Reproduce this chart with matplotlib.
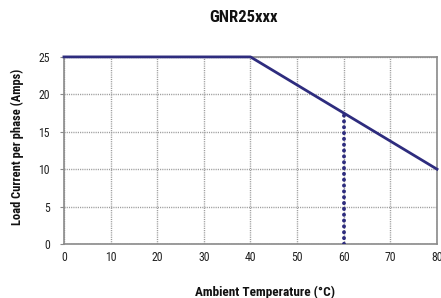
import matplotlib
matplotlib.use("Agg")
import matplotlib.pyplot as plt

fam = ['Roboto Condensed', 'DejaVu Sans']

temps = [0, 40, 80]
current = [25, 25, 10]
marker_temp = [60, 60]
marker_current = [0, 17.5]
xticks = [0, 10, 20, 30, 40, 50, 60, 70, 80]
yticks = [0, 5, 10, 15, 20, 25]

fig = plt.figure(figsize=(4.41, 2.98), dpi=100)
ax = fig.add_axes([0.145, 0.181, 0.846, 0.628])
navy = '#2e2c7e'
ax.plot(temps, current, color=navy, lw=2, zorder=3, clip_on=False)
ax.plot(marker_temp, marker_current, color=navy, lw=2.8, linestyle=(0, (0.05, 1.45)),
        dash_capstyle='round', zorder=3)
ax.set_xlim(0, 80)
ax.set_ylim(0, 25)
ax.set_xticks(xticks)
ax.set_yticks(yticks)
ax.grid(True, color='#9a9a9a', linestyle=(0, (0.8, 0.8)), lw=1.0)
for s in ax.spines.values():
    s.set_color('#8a8a8a')
    s.set_linewidth(1.2)
ax.tick_params(axis='y', length=3, width=0.8, color='#8a8a8a', pad=7, labelsize=8.5, labelcolor='#222222')
ax.tick_params(axis='x', length=0, pad=5, labelsize=8.5, labelcolor='#222222')
for lab in ax.get_xticklabels() + ax.get_yticklabels():
    lab.set_family(fam)
fig.text(0.601, 0.020, 'Ambient Temperature (°C)', family=fam, fontweight='bold', fontsize=9.5,
         ha='center', va='center', color='#111111')
fig.text(0.039, 0.507, 'Load Current per phase (Amps)', family=fam, fontweight='bold', fontsize=9,
         ha='center', va='center', rotation=90, color='#111111')
fig.text(0.553, 0.941, 'GNR25xxx', family=fam, fontweight='bold', fontsize=12, ha='center', va='center', color='#111111')
fig.savefig('out.png', dpi=100)
